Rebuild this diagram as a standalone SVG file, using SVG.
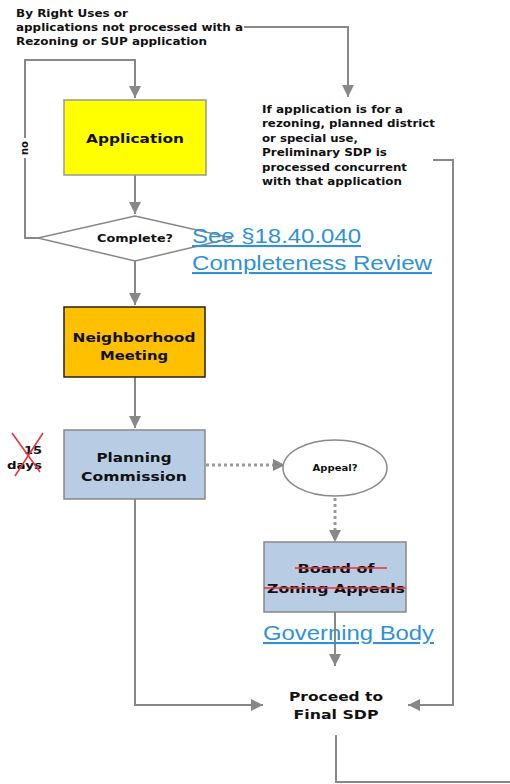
<svg xmlns="http://www.w3.org/2000/svg" width="510" height="784" viewBox="0 0 510 784">
<style>
.t{font-family:"DejaVu Sans",Verdana,sans-serif;font-weight:bold;fill:#111;}
.c{text-anchor:middle;}
.ln{fill:none;stroke:#888;stroke-width:2;}
.dot{fill:none;stroke:#999;stroke-width:3;stroke-dasharray:3 3;}
.lk{font-family:"Liberation Sans",Arial,sans-serif;font-size:21px;fill:#2F92D5;text-decoration:underline;}
.red{stroke:#E8323C;stroke-width:1.6;fill:none;}
</style>
<defs>
<marker id="ah" viewBox="0 0 10 10" refX="10" refY="5" markerWidth="6" markerHeight="6" markerUnits="strokeWidth" orient="auto">
<path d="M0,0 L10,5 L0,10 z" fill="#888"/>
</marker>
</defs>
<g id="connectors">
<path class="ln" d="M244,27 H348 V97" marker-end="url(#ah)"/>
<path class="ln" d="M40,238 H25 V60 H135 V98" marker-end="url(#ah)"/>
<path class="ln" d="M135,175 V214" marker-end="url(#ah)"/>
<path class="ln" d="M135,261 V305" marker-end="url(#ah)"/>
<path class="ln" d="M135,377 V428" marker-end="url(#ah)"/>
<path class="dot" d="M206,465 H276"/>
<path d="M273,459 L285,465 L273,471 z" fill="#888"/>
<path class="dot" d="M335,498 V532"/>
<path d="M329,530 L335,542 L341,530 z" fill="#888"/>
<path class="ln" d="M335,612 V666" marker-end="url(#ah)"/>
<path class="ln" d="M135,499 V705 H263" marker-end="url(#ah)"/>
<path class="ln" d="M433,160 H453 V705 H408" marker-end="url(#ah)"/>
<path class="ln" d="M336,735 V782 H510"/>
</g>
<g id="note-top">
<text class="t" font-size="10.5"><tspan x="16" y="17" textLength="112" lengthAdjust="spacingAndGlyphs">By Right Uses or</tspan><tspan x="16" y="31" textLength="227" lengthAdjust="spacingAndGlyphs">applications not processed with a</tspan><tspan x="16" y="45" textLength="191" lengthAdjust="spacingAndGlyphs">Rezoning or SUP application</tspan></text>
</g>
<g id="note-right">
<text class="t" font-size="10.5"><tspan x="262" y="113" textLength="141" lengthAdjust="spacingAndGlyphs">If application is for a</tspan><tspan x="262" y="127" textLength="173" lengthAdjust="spacingAndGlyphs">rezoning, planned district</tspan><tspan x="262" y="142" textLength="96" lengthAdjust="spacingAndGlyphs">or special use,</tspan><tspan x="262" y="156" textLength="125" lengthAdjust="spacingAndGlyphs">Preliminary SDP is</tspan><tspan x="262" y="171" textLength="145" lengthAdjust="spacingAndGlyphs">processed concurrent</tspan><tspan x="262" y="185" textLength="140" lengthAdjust="spacingAndGlyphs">with that application</tspan></text>
</g>
<g id="no-label">
<rect x="20" y="138" width="10" height="20" fill="#fff"/>
<text class="t c" font-size="10" transform="translate(28,148) rotate(-90)">no</text>
</g>
<g id="application">
<rect x="64" y="100" width="142" height="75" fill="#FFFF00" stroke="#999" stroke-width="1.5"/>
<text class="t c" x="135" y="143" font-size="13" textLength="98" lengthAdjust="spacingAndGlyphs">Application</text>
</g>
<g id="complete">
<path d="M135,216 L232,238 L135,261 L38,238 z" fill="#fff" stroke="#888" stroke-width="1.5"/>
<text class="t c" x="135" y="242" font-size="10" textLength="76" lengthAdjust="spacingAndGlyphs">Complete?</text>
</g>
<g id="link-completeness">
<text class="lk"><tspan x="192" y="243" textLength="169" lengthAdjust="spacingAndGlyphs">See §18.40.040</tspan><tspan x="192" y="270" textLength="240" lengthAdjust="spacingAndGlyphs">Completeness Review</tspan></text>
</g>
<g id="neighborhood">
<rect x="64" y="307" width="141" height="70" fill="#FFC000" stroke="#222" stroke-width="1.5"/>
<text class="t c" font-size="13"><tspan x="134" y="342" textLength="123" lengthAdjust="spacingAndGlyphs">Neighborhood</tspan><tspan x="134" y="360" textLength="68" lengthAdjust="spacingAndGlyphs">Meeting</tspan></text>
</g>
<g id="days">
<text class="t" font-size="10"><tspan x="24" y="454" textLength="18" lengthAdjust="spacingAndGlyphs">15</tspan><tspan x="7" y="469" textLength="35" lengthAdjust="spacingAndGlyphs">days</tspan></text>
<path class="red" d="M12,433 L40,472 M43,433 L15,476"/>
</g>
<g id="planning">
<rect x="64" y="430" width="141" height="69" fill="#B8CCE4" stroke="#888" stroke-width="1.5"/>
<text class="t c" font-size="13"><tspan x="134" y="462" textLength="75" lengthAdjust="spacingAndGlyphs">Planning</tspan><tspan x="134" y="481" textLength="106" lengthAdjust="spacingAndGlyphs">Commission</tspan></text>
</g>
<g id="appeal">
<ellipse cx="335" cy="468" rx="52" ry="28" fill="#fff" stroke="#888" stroke-width="1.5"/>
<text class="t c" x="335" y="471" font-size="8.5" textLength="45" lengthAdjust="spacingAndGlyphs">Appeal?</text>
</g>
<g id="board">
<rect x="264" y="542" width="142" height="70" fill="#B8CCE4" stroke="#888" stroke-width="1.5"/>
<text class="t c" font-size="12.5"><tspan x="336" y="573" textLength="77" lengthAdjust="spacingAndGlyphs">Board of</tspan><tspan x="336" y="593" textLength="138" lengthAdjust="spacingAndGlyphs">Zoning Appeals</tspan></text>
<path class="red" d="M295,568 H387 M264,588 H406"/>
</g>
<g id="link-governing">
<text class="lk" x="263" y="640" textLength="171" lengthAdjust="spacingAndGlyphs">Governing Body</text>
</g>
<g id="final">
<text class="t c" font-size="12.5"><tspan x="336" y="701" textLength="94" lengthAdjust="spacingAndGlyphs">Proceed to</tspan><tspan x="336" y="719" textLength="85" lengthAdjust="spacingAndGlyphs">Final SDP</tspan></text>
</g>
</svg>
